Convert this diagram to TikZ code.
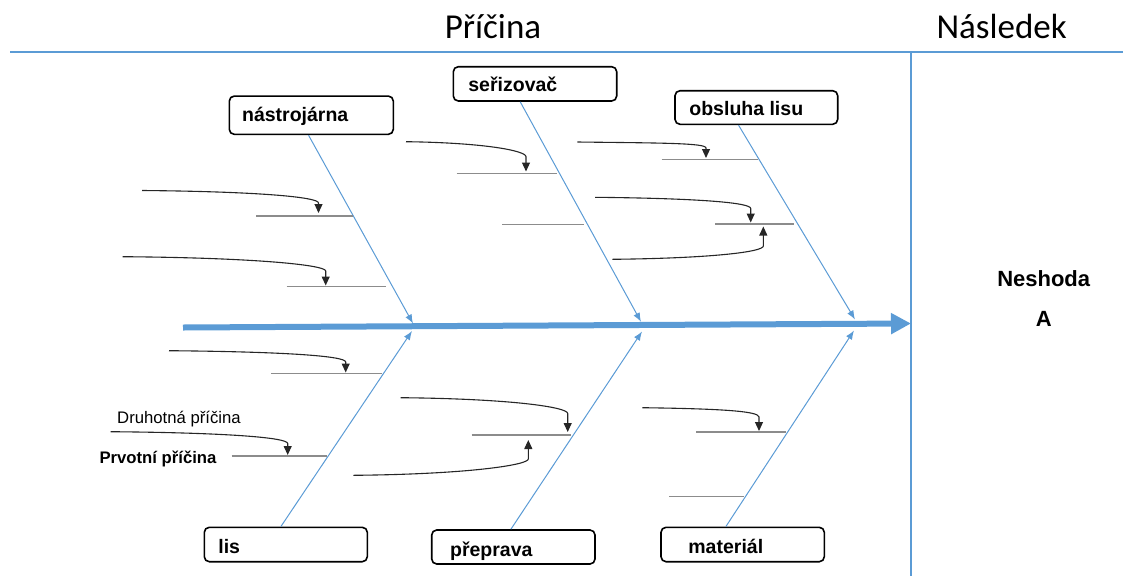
\documentclass[tikz,border=0pt]{standalone}
\usepackage{fontspec}
\setmainfont{Liberation Sans}
\newfontfamily\headfont{Carlito}
\usetikzlibrary{arrows.meta}
\definecolor{fishblue}{HTML}{5B9BD5}
\definecolor{ribgray}{HTML}{8C8C8C}

\begin{document}
\begin{tikzpicture}[x=1pt,y=-1pt,
  catbox/.style={draw=black,line width=1.6pt,rounded corners=5pt,inner sep=0pt},
  cattext/.style={anchor=base west,inner sep=0pt,font=\fontsize{19.5}{22}\selectfont\bfseries},
  headtext/.style={anchor=base,inner sep=0pt,font=\headfont\fontsize{35}{40}\selectfont},
  efftext/.style={anchor=base,inner sep=0pt,font=\fontsize{22}{25}\selectfont\bfseries},
  bone/.style={draw=fishblue,line width=1pt,-{Latex[length=9pt,width=7pt]}},
  spine/.style={draw=fishblue,line width=6pt,-{Triangle[length=20pt,width=20pt]}},
  rib/.style={draw=ribgray,line width=1.5pt},
  cause/.style={draw=black!85,line width=1.1pt,-{Triangle[length=9pt,width=8pt]}},
  frame/.style={draw=fishblue,line width=2.5pt},
]
\path[use as bounding box] (0,0) rectangle (1123,576);

% header rule and cause / effect divider
\draw[frame] (10,52) -- (1123,52);
\draw[frame] (911,52) -- (911,576);
\node[headtext] (hcause)  at (493,38.5)   {Příčina};
\node[headtext] (heffect) at (1001.7,38.5) {Následek};

% effect
\node[efftext] (eff1) at (1043.7,286) {Neshoda};
\node[efftext] (eff2) at (1043.7,326) {A};

% spine
\coordinate (tail) at (183,327.5);
\coordinate (head) at (911,323.5);
\draw[spine] (tail) -- (head);

% category boxes
\node[catbox,minimum width=164pt,minimum height=38.3pt] (nas) at (311.3,115.2) {};
\node[catbox,minimum width=163.4pt,minimum height=34.3pt] (ser) at (535,83.85) {};
\node[catbox,minimum width=162.7pt,minimum height=33.6pt] (obs) at (756.35,107.5) {};
\node[catbox,minimum width=163pt,minimum height=34.4pt] (lis) at (285.8,544.5) {};
\node[catbox,minimum width=163.3pt,minimum height=34pt] (pre) at (513.35,547) {};
\node[catbox,minimum width=163.3pt,minimum height=34.4pt] (mat) at (742.65,544.5) {};

\node[cattext,xshift=13.4pt,yshift=-6.5pt] (nast) at (nas.west) {nástrojárna};
\node[cattext,xshift=15.7pt,yshift=-7.9pt] (sert) at (ser.west) {seřizovač};
\node[cattext,xshift=15pt,yshift=-7.5pt]   (obst) at (obs.west) {obsluha lisu};
\node[cattext,xshift=14.7pt,yshift=-8.8pt] (list) at (lis.west) {lis};
\node[cattext,xshift=19pt,yshift=-9pt]     (pret) at (pre.west) {přeprava};
\node[cattext,xshift=28pt,yshift=-8.8pt]   (matt) at (mat.west) {materiál};

% main bones
\coordinate (n1) at (413,323.5);
\coordinate (n2) at (641,321.8);
\coordinate (n3) at (855,319.5);
\coordinate (s1) at (412,331);
\coordinate (s2) at (642,331.5);
\coordinate (s3) at (854,330.5);
\draw[bone] ([xshift=80pt]nas.south west) -- (n1);
\draw[bone] ([xshift=67.7pt]ser.south west) -- (n2);
\draw[bone] ([xshift=64.3pt]obs.south west) -- (n3);
\draw[bone] ([xshift=77.4pt]lis.north west) -- (s1);
\draw[bone] ([xshift=80pt]pre.north west) -- (s2);
\draw[bone] ([xshift=65.7pt]mat.north west) -- (s3);

% primary causes
\draw[rib] (256,216) -- (353,216);
\draw[rib] (286.7,286.7) -- (386,286.7);
\draw[rib] (456.7,173.3) -- (557.3,173.3);
\draw[rib] (502,224.7) -- (584.3,224.7);
\draw[rib] (661.7,159.3) -- (758.3,159.3);
\draw[rib] (715,224) -- (794.3,224);
\draw[rib] (271,373.7) -- (381.7,373.7);
\draw[rib] (231.7,456) -- (326.7,456);
\draw[rib] (471.7,435) -- (571.3,435);
\draw[rib] (696.3,432) -- (785.7,432);
\draw[rib] (669.3,496.7) -- (744.3,496.7);

% secondary causes
\coordinate (a1) at (142,190.5);   \coordinate (b1) at (318.5,213);
\coordinate (a2) at (122.7,256.7); \coordinate (b2) at (325.7,285.5);
\coordinate (a3) at (406,141.7);   \coordinate (b3) at (526,171.5);
\coordinate (a4) at (577.3,142);   \coordinate (b4) at (706,158);
\coordinate (a5) at (595,197.3);   \coordinate (b5) at (750.7,222.5);
\coordinate (a6) at (612.3,259.3); \coordinate (b6) at (763.3,226.5);
\coordinate (a7) at (169,350.7);   \coordinate (b7) at (345.7,372.5);
\coordinate (a8) at (110.7,431.7); \coordinate (b8) at (287.7,455);
\coordinate (a9) at (400.7,397.7); \coordinate (b9) at (567.7,432);
\coordinate (a10) at (353.3,475.3); \coordinate (b10) at (528.3,440);
\coordinate (a11) at (642.3,407.7); \coordinate (b11) at (759,431);

\draw[cause] (a1) .. controls (256.7,191.5) and (318.5,197) .. (318.5,203) -- (b1);
\draw[cause] (a2) .. controls (254.6,257.7) and (325.7,265) .. (325.7,271) -- (b2);
\draw[cause] (a3) .. controls (484,142.7) and (526,150.7) .. (526,156.7) -- (b3);
\draw[cause] (a4) .. controls (661,143) and (706,143) .. (706,148) -- (b4);
\draw[cause] (a5) .. controls (696.2,198.3) and (750.7,202.5) .. (750.7,208.5) -- (b5);
\draw[cause] (a6) .. controls (710,258.3) and (763.3,252) .. (763.3,246) -- (b6);
\draw[cause] (a7) .. controls (283.9,351.7) and (345.7,356) .. (345.7,362) -- (b7);
\draw[cause] (a8) .. controls (225.8,432.7) and (287.7,437.5) .. (287.7,443.5) -- (b8);
\draw[cause] (a9) .. controls (509.3,398.7) and (567.7,407) .. (567.7,413.5) -- (b9);
\draw[cause] (a10) .. controls (467,474.3) and (528.3,465) .. (528.3,459) -- (b10);
\draw[cause] (a11) .. controls (718.2,408.7) and (759,411) .. (759,417) -- (b11);

% legend labels
\node[anchor=base west,inner sep=0pt,font=\fontsize{16.7}{19}\selectfont] (sec) at (117,423) {Druhotná příčina};
\node[anchor=base west,inner sep=0pt,font=\fontsize{16.7}{19}\selectfont\bfseries] (prim) at (99.3,463.5) {Prvotní příčina};
\end{tikzpicture}
\end{document}
